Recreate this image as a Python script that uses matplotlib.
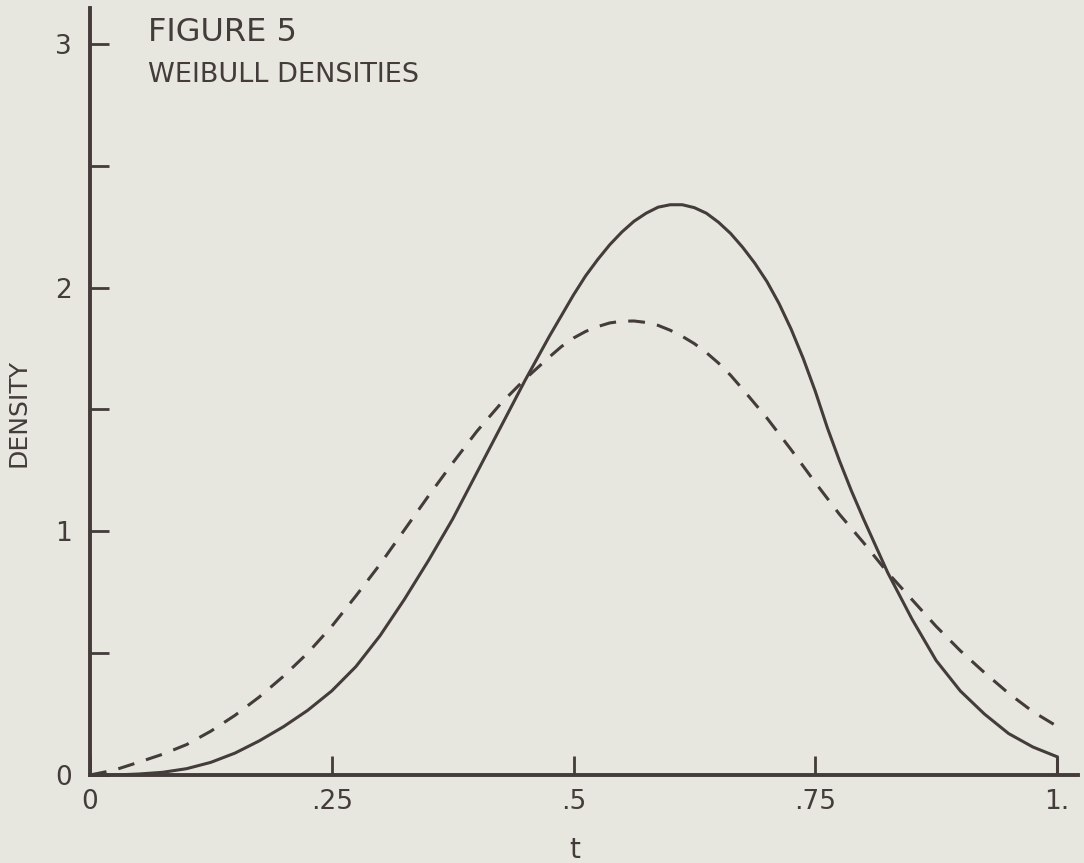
import numpy as np
import matplotlib
matplotlib.use("Agg")
import matplotlib.pyplot as plt

# values (finer steps around the peaks)
t_solid = [0.0, 0.025, 0.05, 0.075, 0.1, 0.125, 0.15, 0.175, 0.2, 0.225,
           0.25, 0.275, 0.3, 0.325, 0.35, 0.375, 0.4, 0.425, 0.45, 0.475,
           0.5, 0.5125, 0.525, 0.5375, 0.55, 0.5625, 0.575, 0.5875, 0.6,
           0.6125, 0.625, 0.6375, 0.65, 0.6625, 0.675, 0.6875, 0.7, 0.7125,
           0.725, 0.7375, 0.75, 0.7625, 0.775, 0.7875, 0.8, 0.8125, 0.825,
           0.85, 0.875, 0.9, 0.925, 0.95, 0.975, 1.0]
solid = [0.0, 0.0, 0.004, 0.011, 0.026, 0.052, 0.09, 0.14, 0.198, 0.265,
         0.345, 0.445, 0.572, 0.72, 0.88, 1.05, 1.24, 1.43, 1.62, 1.80,
         1.97, 2.048, 2.115, 2.176, 2.228, 2.272, 2.305, 2.33, 2.34,
         2.34, 2.328, 2.305, 2.268, 2.222, 2.165, 2.10, 2.025, 1.935,
         1.83, 1.71, 1.575, 1.425, 1.29, 1.165, 1.05, 0.94, 0.83,
         0.64, 0.47, 0.345, 0.25, 0.17, 0.115, 0.075]

t_dashed = [0.0, 0.025, 0.05, 0.075, 0.1, 0.125, 0.15, 0.175, 0.2, 0.225,
            0.25, 0.275, 0.3, 0.325, 0.35, 0.375, 0.4, 0.425, 0.45, 0.475,
            0.4875, 0.5, 0.5125, 0.525, 0.5375, 0.55, 0.5625, 0.575, 0.5875,
            0.6, 0.6125, 0.625, 0.6375, 0.65, 0.6625, 0.675, 0.7, 0.725,
            0.75, 0.775, 0.8, 0.825, 0.85, 0.875, 0.9, 0.925, 0.95, 0.975, 1.0]
dashed = [0.0, 0.02, 0.052, 0.085, 0.125, 0.18, 0.245, 0.32, 0.405, 0.50,
          0.61, 0.735, 0.865, 1.005, 1.145, 1.28, 1.41, 1.525, 1.625, 1.715,
          1.758, 1.793, 1.82, 1.84, 1.855, 1.862, 1.863, 1.857, 1.845,
          1.825, 1.80, 1.77, 1.733, 1.69, 1.64, 1.583, 1.465, 1.335,
          1.20, 1.07, 0.953, 0.83, 0.72, 0.61, 0.51, 0.42, 0.335, 0.26, 0.20]

xticks = [0, 0.25, 0.5, 0.75, 1.0]
xlabels = ["0", ".25", ".5", ".75", "1."]
yticks = [0, 1, 2, 3]
yminor = [0.5, 1.5, 2.5]

bg = "#e7e7df"
ink = "#443b3b"

plt.rcParams["font.family"] = ["DejaVu Sans"]

W, H = 1084, 863
fig = plt.figure(figsize=(W / 100, H / 100), dpi=100, facecolor=bg)
ax = fig.add_axes([90 / W, 1 - 775 / H, (1078 - 90) / W, (775 - 8) / H])
ax.set_facecolor(bg)

ax.plot(t_solid, solid, color=ink, lw=2.2, solid_joinstyle="round")
ax.vlines(t_solid[-1], 0, solid[-1], color=ink, lw=2.2)
ax.plot(t_dashed, dashed, color=ink, lw=2.2, dashes=(5.5, 4.0))

ax.set_xlim(0, (1078 - 90) / 967)
ax.set_ylim(0, (775 - 8) / 243.7)

for s in ["top", "right"]:
    ax.spines[s].set_visible(False)
for s in ["left", "bottom"]:
    ax.spines[s].set_color(ink)
    ax.spines[s].set_linewidth(2.8)

ax.set_xticks(xticks)
ax.set_xticklabels(xlabels)
ax.set_yticks(yticks)
ax.set_yticks(yminor, minor=True)
ax.tick_params(which="both", direction="in", length=14, width=2.0, color=ink,
               labelcolor=ink, labelsize=19)
ax.tick_params(axis="y", pad=13)
ax.tick_params(axis="x", pad=10)

fig.text(148 / W, 1 - 41 / H, "FIGURE 5", fontsize=23, color=ink, va="baseline")
fig.text(148 / W, 1 - 82 / H, "WEIBULL DENSITIES", fontsize=19.5, color=ink,
         va="baseline")
fig.text(19 / W, 1 - 413 / H, "DENSITY", fontsize=18, color=ink, rotation=90,
         ha="center", va="center")
fig.text(575 / W, 1 - 850 / H, "t", fontsize=20, color=ink, ha="center",
         va="center")

fig.savefig("out.png", dpi=100, facecolor=bg)
